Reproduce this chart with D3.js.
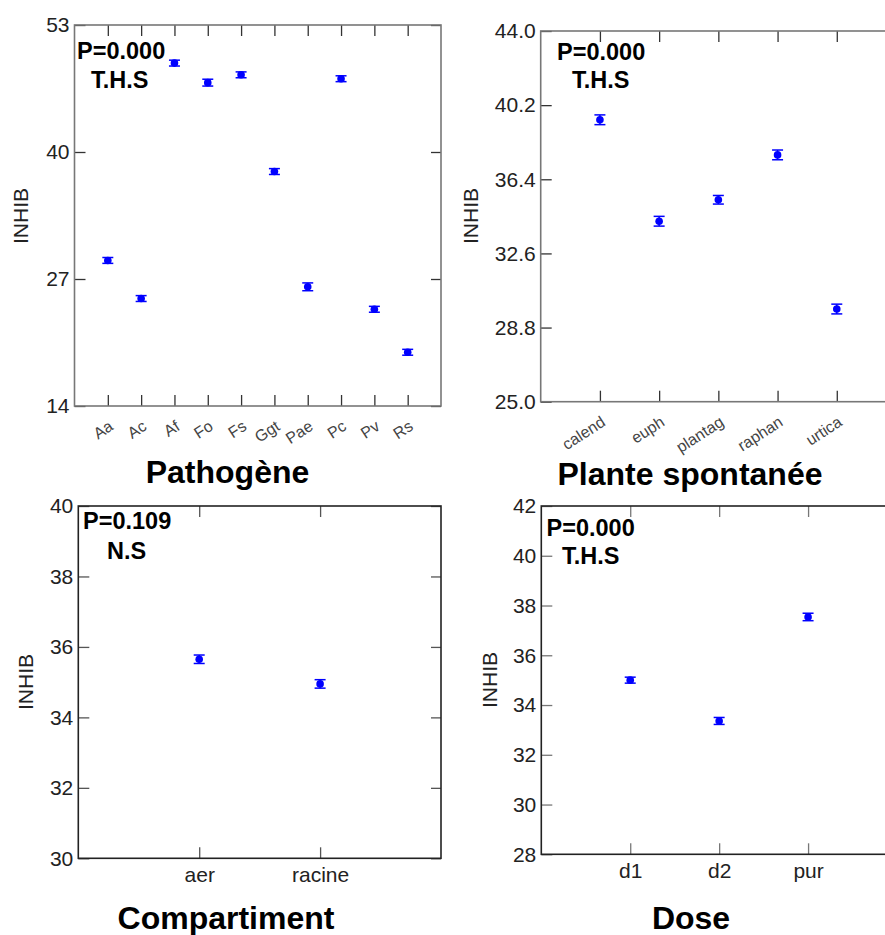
<!DOCTYPE html>
<html>
<head>
<meta charset="utf-8">
<script src="https://cdn.jsdelivr.net/npm/d3@7"></script>
<style>
  html, body { margin: 0; padding: 0; background: #fff; }
  svg { display: block; font-family: "Liberation Sans", Arial, sans-serif; }
</style>
</head>
<body>
<svg id="chart" width="885" height="935"></svg>
<script>
// Mean inhibition (INHIB) by factor, with standard-error bars

const pathogenCategories = ["Aa", "Ac", "Af", "Fo", "Fs", "Ggt", "Pae", "Pc", "Pv", "Rs"];
const pathogenMeans      = [28.9, 25.0, 49.1, 47.1, 47.9, 38.0, 26.2, 47.5, 23.9, 19.5];
const pathogenErrors     = [0.3, 0.3, 0.3, 0.35, 0.3, 0.3, 0.4, 0.3, 0.3, 0.3];
const pathogenTicks      = [14, 27, 40, 53];

const plantCategories = ["calend", "euph", "plantag", "raphan", "urtica"];
const plantMeans      = [39.45, 34.25, 35.35, 37.65, 29.75];
const plantErrors     = [0.25, 0.25, 0.22, 0.25, 0.25];
const plantTicks      = [25.0, 28.8, 32.6, 36.4, 40.2, 44.0];

const compartmentCategories = ["aer", "racine"];
const compartmentMeans      = [35.65, 34.95];
const compartmentErrors     = [0.12, 0.12];
const compartmentTicks      = [30, 32, 34, 36, 38, 40];

const doseCategories = ["d1", "d2", "pur"];
const doseMeans      = [35.0, 33.36, 37.54];
const doseErrors     = [0.12, 0.14, 0.15];
const doseTicks      = [28, 30, 32, 34, 36, 38, 40, 42];

const factorTitles  = ["Pathogène", "Plante spontanée", "Compartiment", "Dose"];
const pValueLabels  = ["P=0.000", "P=0.000", "P=0.109", "P=0.000"];
const signifLabels  = ["T.H.S", "T.H.S", "N.S", "T.H.S"];
const yAxisLabel    = "INHIB";

const svg = d3.select("#chart");

const panels = [
  { categories: pathogenCategories, means: pathogenMeans, errors: pathogenErrors, ticks: pathogenTicks,
    fmt: d3.format("d"), left: 74.5, right: 441, top: 25, bottom: 406, rotate: true,
    boxColor: "#777", tickColor: "#333",
    ylab: [20.5, 216], p: [77, 59], s: [91, 88], title: [227.5, 483] },
  { categories: plantCategories, means: plantMeans, errors: plantErrors, ticks: plantTicks,
    fmt: d3.format(".1f"), left: 540.7, right: 896, top: 31, bottom: 401.7, rotate: true,
    boxColor: "#777", tickColor: "#333",
    ylab: [470, 216], p: [557, 60], s: [572, 88], title: [690, 485] },
  { categories: compartmentCategories, means: compartmentMeans, errors: compartmentErrors, ticks: compartmentTicks,
    fmt: d3.format("d"), left: 78.3, right: 441, top: 506, bottom: 858.3, rotate: false,
    boxColor: "#222", tickColor: "#555",
    ylab: [25, 682], p: [83, 529], s: [107, 559], title: [226, 929] },
  { categories: doseCategories, means: doseMeans, errors: doseErrors, ticks: doseTicks,
    fmt: d3.format("d"), left: 541.3, right: 897, top: 506, bottom: 854.3, rotate: false,
    boxColor: "#222", tickColor: "#777",
    ylab: [489, 680], p: [546.5, 536], s: [562, 564], title: [691, 929] }
];

panels.forEach((cfg, i) => drawPanel(cfg, i));

function drawPanel(cfg, i) {
  const x = d3.scalePoint().domain(cfg.categories).range([cfg.left, cfg.right]).padding(1);
  const y = d3.scaleLinear().domain(d3.extent(cfg.ticks)).range([cfg.bottom, cfg.top]);
  const g = svg.append("g");

  // inward ticks on all four sides
  const left = g.append("g").attr("transform", `translate(${cfg.left},0)`)
    .call(d3.axisLeft(y).tickValues(cfg.ticks).tickFormat(cfg.fmt).tickSize(-11).tickPadding(5));
  const right = g.append("g").attr("transform", `translate(${cfg.right},0)`)
    .call(d3.axisRight(y).tickValues(cfg.ticks).tickFormat("").tickSize(-10));
  const top = g.append("g").attr("transform", `translate(0,${cfg.top})`)
    .call(d3.axisTop(x).tickFormat("").tickSize(-11));
  const bottom = g.append("g").attr("transform", `translate(0,${cfg.bottom})`)
    .call(d3.axisBottom(x).tickSize(-11).tickPadding(0));

  [left, right, top, bottom].forEach(a => {
    a.select(".domain").remove();
    a.selectAll(".tick line").attr("stroke", cfg.tickColor).attr("stroke-width", 1.3);
  });

  left.selectAll(".tick text")
    .attr("font-size", 21).attr("fill", "#222")
    .attr("font-family", "Liberation Sans, Arial, sans-serif");

  const xl = bottom.selectAll(".tick text")
    .attr("font-family", "Liberation Sans, Arial, sans-serif");
  if (cfg.rotate) {
    xl.attr("font-size", 16).attr("fill", "#444")
      .attr("text-anchor", "end").attr("y", 0).attr("dy", 0)
      .attr("transform", "translate(6,23) rotate(-33)");
  } else {
    xl.attr("font-size", 21).attr("fill", "#222")
      .attr("y", 0).attr("dy", 0).attr("transform", "translate(0,24)");
  }

  // frame
  g.append("rect")
    .attr("x", cfg.left).attr("y", cfg.top)
    .attr("width", cfg.right - cfg.left).attr("height", cfg.bottom - cfg.top)
    .attr("fill", "none").attr("stroke", cfg.boxColor).attr("stroke-width", 1.6);

  // means with error bars
  const pts = cfg.categories.map((c, k) => ({ c, m: cfg.means[k], e: cfg.errors[k] }));
  const mk = g.append("g").selectAll("g").data(pts).join("g");
  mk.append("line")
    .attr("x1", d => x(d.c)).attr("x2", d => x(d.c))
    .attr("y1", d => y(d.m - d.e)).attr("y2", d => y(d.m + d.e))
    .attr("stroke", "#0000ff").attr("stroke-width", 1.5);
  [-1, 1].forEach(sgn => {
    mk.append("line")
      .attr("x1", d => x(d.c) - 5.5).attr("x2", d => x(d.c) + 5.5)
      .attr("y1", d => y(d.m + sgn * d.e)).attr("y2", d => y(d.m + sgn * d.e))
      .attr("stroke", "#0000ff").attr("stroke-width", 1.5);
  });
  mk.append("circle")
    .attr("cx", d => x(d.c)).attr("cy", d => y(d.m)).attr("r", 3.8)
    .attr("fill", "#0000ff");

  // y-axis label
  svg.append("text")
    .attr("transform", `translate(${cfg.ylab[0] + 7.5},${cfg.ylab[1]}) rotate(-90)`)
    .attr("text-anchor", "middle").attr("font-size", 21).attr("fill", "#222")
    .text(yAxisLabel);

  // significance annotation
  svg.append("text").attr("x", cfg.p[0]).attr("y", cfg.p[1])
    .attr("font-size", 23.5).attr("font-weight", "bold").attr("fill", "#000")
    .text(pValueLabels[i]);
  svg.append("text").attr("x", cfg.s[0]).attr("y", cfg.s[1])
    .attr("font-size", 23.5).attr("font-weight", "bold").attr("fill", "#000")
    .text(signifLabels[i]);

  // factor title
  svg.append("text").attr("x", cfg.title[0]).attr("y", cfg.title[1])
    .attr("text-anchor", "middle").attr("font-size", 32)
    .attr("font-weight", "bold").attr("fill", "#000")
    .text(factorTitles[i]);
}
</script>
</body>
</html>
